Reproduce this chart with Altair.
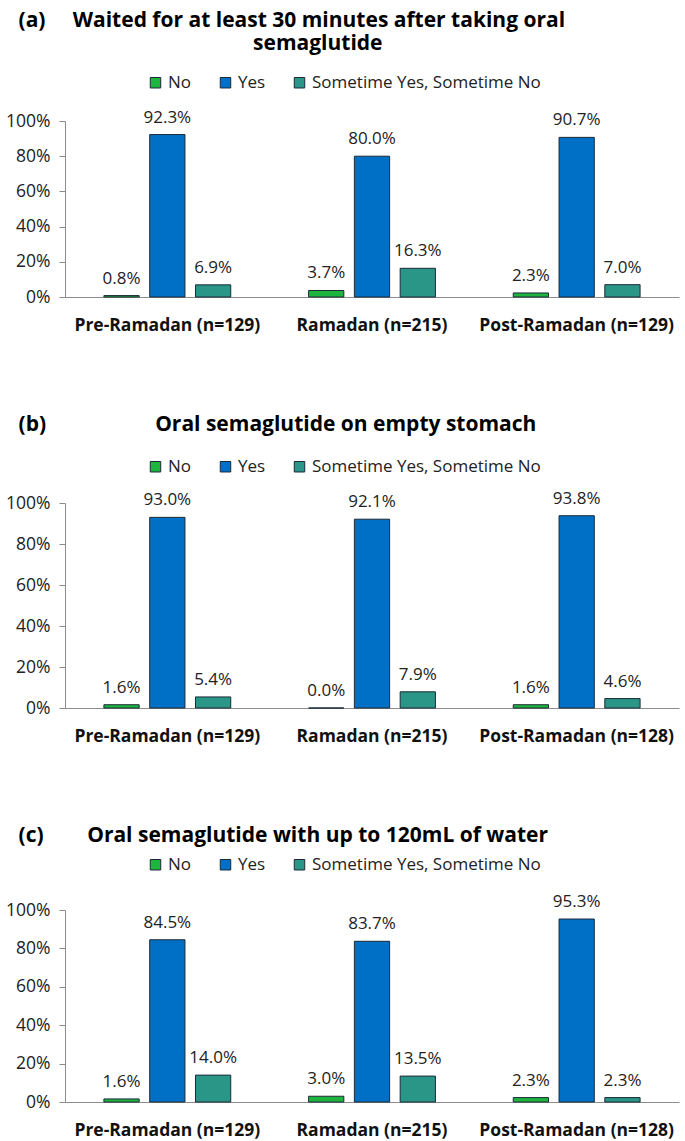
import altair as alt
import pandas as pd

series = ["No", "Yes", "Sometime Yes, Sometime No"]
colors = ["#1DB53E", "#0070C6", "#2A9688"]

cats_a = ["Pre-Ramadan (n=129)", "Ramadan (n=215)", "Post-Ramadan (n=129)"]
no_a = [0.8, 3.7, 2.3]
yes_a = [92.3, 80.0, 90.7]
some_a = [6.9, 16.3, 7.0]

cats_b = ["Pre-Ramadan (n=129)", "Ramadan (n=215)", "Post-Ramadan (n=128)"]
no_b = [1.6, 0.0, 1.6]
yes_b = [93.0, 92.1, 93.8]
some_b = [5.4, 7.9, 4.6]

cats_c = ["Pre-Ramadan (n=129)", "Ramadan (n=215)", "Post-Ramadan (n=128)"]
no_c = [1.6, 3.0, 2.3]
yes_c = [84.5, 83.7, 95.3]
some_c = [14.0, 13.5, 2.3]

y_ticks = [0, 20, 40, 60, 80, 100]

NB = "\u00a0"
ZW = "\u200b"
title_a = ["(a)" + NB * 5 + "Waited for at least 30 minutes after taking oral",
           ZW + NB * 43 + "semaglutide"]
title_b = ["(b)" + NB * 20 + "Oral semaglutide on empty stomach"]
title_c = ["(c)" + NB * 8 + "Oral semaglutide with up to 120mL of water"]

FONT = "Open Sans"
W = 614


def make_df(cats, no, yes, some):
    rows = []
    for i, c in enumerate(cats):
        for s, v in zip(series, [no[i], yes[i], some[i]]):
            rows.append({"cat": c, "series": s, "value": v})
    return pd.DataFrame(rows)


def panel(cats, no, yes, some, title, height, legend_y, offset):
    df = make_df(cats, no, yes, some)
    y_axis = alt.Axis(values=y_ticks, labelExpr="datum.value + '%'", grid=False,
                      labelFontSize=17.5, labelColor="#222", labelFont=FONT,
                      tickSize=6, tickColor="#8c8c8c", domainColor="#8c8c8c",
                      labelPadding=9, labelOverlap=False)
    y_enc = alt.Y("value:Q", title=None,
                  scale=alt.Scale(domain=[0, 100], nice=False), axis=y_axis)
    base = alt.Chart(df).transform_calculate(frac="datum.value / 100").encode(
        x=alt.X("cat:N", sort=cats, title=None,
                scale=alt.Scale(paddingInner=0, paddingOuter=0),
                axis=alt.Axis(labelAngle=0, ticks=False, labelFontWeight="bold",
                              labelFontSize=17.5, labelColor="#111",
                              labelPadding=19, domainColor="#8c8c8c",
                              labelFont=FONT, labelLimit=400)),
        xOffset=alt.XOffset("series:N", sort=series,
                            scale=alt.Scale(paddingInner=0.23, paddingOuter=0.85)),
        y=y_enc,
    )
    bars = base.mark_bar(stroke="#1c2a38", strokeWidth=1).encode(
        color=alt.Color("series:N", sort=series, title=None,
                        scale=alt.Scale(domain=series, range=colors),
                        legend=alt.Legend(orient="none", direction="horizontal",
                                          legendX=82, legendY=legend_y,
                                          symbolType="square", symbolSize=110,
                                          symbolStrokeColor="#1c2a38",
                                          symbolStrokeWidth=1, symbolOpacity=1,
                                          labelFontSize=17, labelFont=FONT,
                                          labelColor="#222", columnPadding=25,
                                          labelOffset=4, labelLimit=400)),
    )
    labels = base.mark_text(baseline="alphabetic", dy=-12, fontSize=17,
                            font=FONT, color="#222").encode(
        text=alt.Text("frac:Q", format=".1%"),
    )
    return alt.layer(bars, labels).properties(
        width=W, height=height,
        view=alt.ViewBackground(stroke="transparent", strokeWidth=0),
        title=alt.TitleParams(text=title, anchor="start", frame="bounds",
                              align="left", dx=13, font=FONT, fontSize=21,
                              fontWeight="bold", color="#000", offset=offset,
                              lineHeight=23),
    ).resolve_scale(color="independent")


pa = panel(cats_a, no_a, yes_a, some_a, title_a, 176, -47, 20)
pb = panel(cats_b, no_b, yes_b, some_b, title_b, 205, -45, 23)
pc = panel(cats_c, no_c, yes_c, some_c, title_c, 192, -54, 10)

chart = alt.vconcat(pa, pb, pc, spacing=80).resolve_legend(
    color="independent"
).resolve_scale(color="independent").configure_view(
    stroke="transparent", strokeWidth=0
).properties(
    background="white",
    padding={"left": 5, "top": 10, "right": 5, "bottom": 5},
)

chart.save("out.html", embed_options={"renderer": "svg", "actions": False})
